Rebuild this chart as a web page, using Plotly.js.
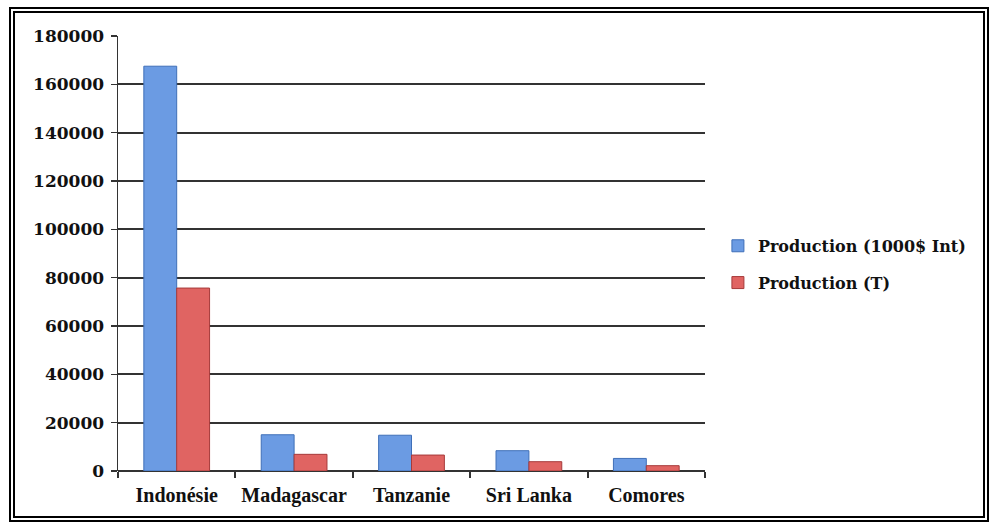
<!DOCTYPE html>
<html>
<head>
<meta charset="utf-8">
<script src="https://cdn.plot.ly/plotly-3.0.1.min.js"></script>
<style>
  html, body { margin: 0; padding: 0; background: #fff; }
  #wrap { position: relative; width: 989px; height: 525px; }
  #frame { position: absolute; left: 9px; top: 7px; width: 968px; height: 503px; border: 6px double #000; pointer-events: none; }
  #chart { position: absolute; left: 0; top: 0; width: 989px; height: 525px; }
</style>
</head>
<body>
<div id="wrap">
  <div id="chart"></div>
  <div id="frame"></div>
</div>
<script>
const categories = ["Indonésie", "Madagascar", "Tanzanie", "Sri Lanka", "Comores"];
const productionValeur = [167500, 15000, 14800, 8400, 5200];
const productionTonnes = [75700, 6900, 6600, 3850, 2200];
const seriesNames = ["Production (1000$ Int)", "Production (T)"];
const yTicks = [0, 20000, 40000, 60000, 80000, 100000, 120000, 140000, 160000, 180000];

const font = "'DejaVu Serif', 'Liberation Serif', serif";
const fontX = "'Liberation Serif', 'DejaVu Serif', serif";

const traces = [
  {
    type: "bar", name: seriesNames[0], x: categories, y: productionValeur, legendgroup: "a",
    marker: { color: "#6b9be3", line: { color: "#3f6fb8", width: 1 } }
  },
  {
    type: "bar", name: seriesNames[1], x: categories, y: productionTonnes, legendgroup: "b",
    marker: { color: "#e06462", line: { color: "#a63a3a", width: 1 } }
  }
];

const layout = {
  width: 989, height: 525,
  margin: { l: 118, r: 284, t: 36, b: 54, pad: 0, autoexpand: false },
  paper_bgcolor: "#ffffff", plot_bgcolor: "#ffffff",
  barmode: "group", bargap: 0.44, bargroupgap: 0,
  font: { family: font, color: "#111", size: 16 },
  showlegend: true,
  legend: {
    x: 1.022, xanchor: "left", y: 0.475, yanchor: "middle",
    traceorder: "grouped", tracegroupgap: 13,
    font: { family: font, size: 16, color: "#111", weight: "bold" },
    itemwidth: 30, bgcolor: "rgba(0,0,0,0)"
  },
  xaxis: {
    type: "category", showgrid: false, zeroline: false, automargin: false,
    showline: false, ticks: "outside", tickson: "boundaries", tickangle: 0,
    ticklen: 6, tickwidth: 2, tickcolor: "#333", ticklabelstandoff: 10,
    tickfont: { family: fontX, size: 20, color: "#111", weight: "bold" }
  },
  yaxis: {
    range: [0, 180000], tickvals: yTicks, ticktext: yTicks.map(String), automargin: false,
    showgrid: true, gridcolor: "#333333", gridwidth: 1.7,
    zeroline: true, zerolinecolor: "#333333", zerolinewidth: 2,
    showline: true, linecolor: "#333333", linewidth: 1.5,
    ticks: "outside", ticklen: 6, tickwidth: 1.5, tickcolor: "#333333", ticklabelstandoff: 3,
    tickfont: { family: font, size: 17, color: "#111", weight: "bold" }
  }
};

Plotly.newPlot("chart", traces, layout, { displayModeBar: false, staticPlot: true });
</script>
</body>
</html>
